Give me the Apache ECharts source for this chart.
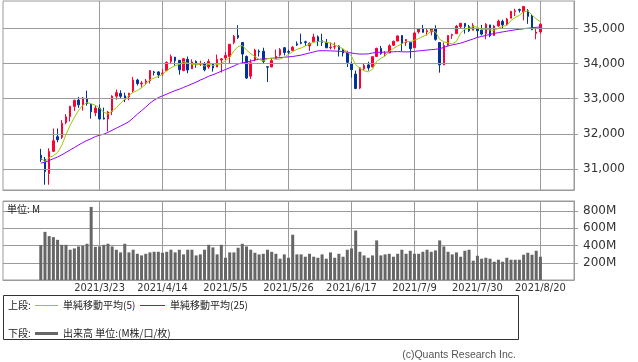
<!DOCTYPE html>
<html><head><meta charset="utf-8">
<script src="https://cdn.jsdelivr.net/npm/echarts@6/dist/echarts.min.js"></script>
<style>html,body{margin:0;padding:0;background:#fff}#c{width:638px;height:362px}</style>
</head><body><div id="c"></div>
<script>
const dates = ['2021/3/3','2021/3/4','2021/3/5','2021/3/8','2021/3/9','2021/3/10','2021/3/11','2021/3/12','2021/3/15','2021/3/16','2021/3/17','2021/3/18','2021/3/19','2021/3/22','2021/3/23','2021/3/24','2021/3/25','2021/3/26','2021/3/29','2021/3/30','2021/3/31',
'2021/4/1','2021/4/5','2021/4/6','2021/4/7','2021/4/8','2021/4/9','2021/4/12','2021/4/13','2021/4/14','2021/4/15','2021/4/16','2021/4/19','2021/4/20','2021/4/21','2021/4/22','2021/4/23','2021/4/26','2021/4/27','2021/4/28','2021/4/29','2021/4/30',
'2021/5/3','2021/5/4','2021/5/5','2021/5/6','2021/5/7','2021/5/10','2021/5/11','2021/5/12','2021/5/13','2021/5/14','2021/5/17','2021/5/18','2021/5/19','2021/5/20','2021/5/21','2021/5/24','2021/5/25','2021/5/26','2021/5/27','2021/5/28',
'2021/6/1','2021/6/2','2021/6/3','2021/6/4','2021/6/7','2021/6/8','2021/6/9','2021/6/10','2021/6/11','2021/6/14','2021/6/15','2021/6/16','2021/6/17','2021/6/18','2021/6/21','2021/6/22','2021/6/23','2021/6/24','2021/6/25','2021/6/28','2021/6/29','2021/6/30',
'2021/7/1','2021/7/2','2021/7/6','2021/7/7','2021/7/8','2021/7/9','2021/7/12','2021/7/13','2021/7/14','2021/7/15','2021/7/16','2021/7/19','2021/7/20','2021/7/21','2021/7/22','2021/7/23','2021/7/26','2021/7/27','2021/7/28','2021/7/29','2021/7/30',
'2021/8/2','2021/8/3','2021/8/4','2021/8/5','2021/8/6','2021/8/9','2021/8/10','2021/8/11','2021/8/12','2021/8/13','2021/8/16','2021/8/17','2021/8/18','2021/8/19','2021/8/20'];

const opens = [31390,31270,30870,31500,31917,31900,32320,32490,32780,32960,32820,33000,32840,32600,32730,32450,32420,32640,33070,33150,33080,
33054,33222,33530,33420,33470,33510,33760,33760,33700,33800,34055,34180,34093,33800,34120,33850,34060,33975,34000,33900,33990,
33900,34100,34160,34200,34600,34800,34600,34200,33640,34100,34350,34350,33910,33900,34150,34240,34450,34340,34370,34560,
34600,34620,34500,34620,34760,34650,34600,34450,34470,34500,34390,34300,34000,33700,33300,33850,33960,33900,34200,34430,34280,34300,
34520,34640,34800,34600,34600,34450,34900,35000,34900,34900,35000,34600,33960,34520,34800,34850,35050,35140,35050,34950,35000,
34950,34850,35100,34800,35070,35200,35100,35290,35480,35540,35470,35500,35350,34860,34900];
const highs = [31571,31340,31590,32150,32150,32390,32560,32800,32970,33050,33047,33227,32870,32805,32837,32747,32650,33098,33259,33240,33172,
33167,33618,33566,33506,33559,33810,33791,33781,33842,34055,34257,34190,34100,34160,34200,34120,34090,34080,34040,34127,34000,
34257,34150,34334,34550,34811,35091,34600,34230,34120,34420,34400,34450,33925,34150,34400,34440,34470,34390,34500,34630,
34850,34650,34600,34850,34800,34850,34700,34600,34600,34520,34420,34360,34050,33800,33900,34000,34050,34200,34450,34500,34350,34550,
34650,34800,34800,34700,34600,34900,35000,35100,35000,35000,35090,34600,34600,34800,34850,35100,35150,35150,35100,35150,35000,
35100,35150,35100,35100,35250,35250,35300,35500,35560,35560,35630,35550,35400,35000,35150];
const lows = [31200,30550,30550,31480,31760,31850,32270,32350,32650,32740,32660,32800,32430,32500,32400,32409,32072,32530,32970,32990,32900,
32954,33171,33375,33318,33400,33430,33660,33590,33650,33780,34010,33927,33684,33780,33725,33850,33880,33930,33780,33850,33770,
33900,33745,34100,34000,34550,34700,34000,33560,33560,34060,34200,34000,33473,33900,34150,34200,34230,34270,34360,34500,
34550,34500,34360,34600,34500,34500,34440,34400,34400,34200,34200,33900,33600,33270,33270,33800,33800,33900,34200,34250,34200,34300,
34500,34640,34350,34500,34150,34450,34850,34880,34800,34800,34650,33740,33960,34500,34700,34850,35000,34850,34900,34950,34750,
34800,34690,34750,34800,35050,35000,35100,35290,35350,35450,35230,35130,34960,34690,34850];
const closes = [31270,30924,31496,31802,31832,32297,32485,32779,32953,32825,33015,32862,32628,32731,32423,32420,32619,33072,33171,33067,32982,
33153,33527,33430,33446,33503,33800,33745,33677,33730,34035,34200,34077,33821,34137,33815,34043,33981,33984,33820,34060,33874,
34113,34133,34230,34548,34778,34742,34269,33587,34021,34382,34327,34060,33896,34084,34208,34394,34312,34323,34465,34529,
34575,34600,34577,34756,34630,34600,34447,34466,34480,34393,34299,34033,33823,33290,33877,33945,33874,34196,34433,34283,34292,34503,
34633,34786,34577,34681,34422,34870,34996,34889,34933,34987,34688,33962,34512,34798,34823,35061,35144,35058,34930,35085,34935,
34838,35116,34793,35064,35208,35102,35265,35485,35500,35515,35625,35343,34961,34894,35120];

const ma5 = [31306,31210,31323,31377,31465,31670,31982,32239,32469,32668,32811,32887,32857,32812,32732,32613,32564,32653,32741,32870,32982,
33089,33180,33232,33308,33412,33541,33585,33634,33691,33797,33877,33944,33973,34054,34010,33979,33959,33992,33929,33978,33944,
33970,34000,34082,34180,34360,34486,34513,34385,34279,34200,34117,34075,34137,34150,34115,34128,34179,34264,34340,34405,
34441,34498,34549,34607,34628,34633,34602,34580,34525,34477,34417,34334,34206,33968,33864,33794,33762,33836,34065,34146,34216,34341,
34429,34499,34558,34636,34620,34667,34709,34772,34822,34935,34899,34692,34616,34589,34557,34631,34868,34977,35003,35056,35030,
34969,34981,34953,34949,35004,35057,35086,35225,35312,35373,35478,35494,35389,35268,35189];
const ma25 = [31165,31190,31240,31290,31340,31400,31470,31540,31610,31680,31750,31810,31860,31920,31960,31990,32040,32100,32160,32220,32280,
32347,32450,32560,32660,32760,32870,32960,33030,33080,33130,33180,33230,33270,33320,33370,33420,33470,33530,33580,33640,33680,
33730,33780,33830,33880,33930,33990,34020,34040,34070,34100,34120,34130,34140,34150,34160,34170,34180,34190,34200,34220,
34240,34270,34300,34330,34360,34365,34365,34360,34355,34350,34340,34320,34300,34280,34270,34270,34275,34300,34320,34320,34325,34330,
34335,34340,34335,34330,34335,34345,34360,34370,34385,34395,34405,34420,34460,34500,34530,34555,34580,34620,34660,34700,34744,
34770,34800,34830,34855,34880,34900,34920,34940,34960,34975,34990,35005,35015,35030,35045];

const volumes = [404,558,509,497,466,408,408,351,366,389,397,420,847,385,389,408,420,389,351,320,420,
320,351,304,285,304,320,327,327,316,327,351,320,351,297,351,351,285,297,351,408,378,
297,408,258,320,320,374,420,389,351,316,297,304,351,327,304,247,297,258,525,297,
297,270,304,270,258,297,247,320,258,304,270,351,366,574,327,285,258,285,459,285,297,304,
270,304,351,304,339,304,304,327,351,327,343,459,389,327,297,320,270,339,351,224,281,
247,258,247,212,235,212,258,235,235,235,293,316,293,339,270];

const priceTicks = [31000,32000,33000,34000,35000];
const xTickLabels = ['2021/3/23','2021/4/14','2021/5/5','2021/5/26','2021/6/17','2021/7/9','2021/7/30','2021/8/20'];

const LEAD = 9, TRAIL = 8;
const cats = [];
for (let i = 0; i < LEAD; i++) cats.push('pad_a' + i);
dates.forEach(d => cats.push(d));
for (let i = 0; i < TRAIL; i++) cats.push('pad_b' + i);
const pad = arr => [...Array(LEAD).fill('-'), ...arr, ...Array(TRAIL).fill('-')];
const candles = [];
for (let i = 0; i < LEAD; i++) candles.push(['-','-','-','-']);
dates.forEach((d, i) => candles.push([opens[i], closes[i], lows[i], highs[i]]));
for (let i = 0; i < TRAIL; i++) candles.push(['-','-','-','-']);

const tickSet = new Set(xTickLabels);
const showTick = (idx, val) => tickSet.has(val);
const GRID = '#9a9a9a';
const NUMFONT = 'DejaVu Sans';
const JPFONT = '"Noto Sans CJK JP"';
const LEGFONT = '10px ' + JPFONT;

const chart = echarts.init(document.getElementById('c'), null, {renderer: 'canvas'});
chart.setOption({
  animation: false,
  backgroundColor: '#fff',
  grid: [
    {left: 3, right: 64, top: 1, height: 189, show: true, borderColor: GRID, borderWidth: 1},
    {left: 3, right: 64, top: 201, height: 79, show: true, borderColor: GRID, borderWidth: 1}
  ],
  xAxis: [
    {type: 'category', gridIndex: 0, data: cats, boundaryGap: false,
     axisLine: {show: true, lineStyle: {color: GRID}}, axisTick: {show: false}, axisLabel: {show: false},
     splitLine: {show: true, interval: showTick, lineStyle: {color: GRID, width: 1}}},
    {type: 'category', gridIndex: 1, data: cats, boundaryGap: false,
     axisLine: {show: true, lineStyle: {color: GRID}}, axisTick: {show: false},
     axisLabel: {show: true, interval: showTick, color: '#333', fontSize: 11, fontFamily: 'DejaVu Sans Condensed', margin: 3},
     splitLine: {show: true, interval: showTick, lineStyle: {color: GRID, width: 1}}}
  ],
  yAxis: [
    {type: 'value', gridIndex: 0, position: 'right', min: 30400, max: 35780, scale: true,
     axisLine: {show: true, lineStyle: {color: GRID}},
     axisTick: {show: true, inside: false, length: 4, customValues: priceTicks, lineStyle: {color: GRID}},
     axisLabel: {show: true, customValues: priceTicks, color: '#333', fontSize: 12, fontFamily: NUMFONT, margin: 9,
       formatter: v => Number(v).toLocaleString('en-US')},
     splitLine: {show: false}},
    {type: 'value', gridIndex: 1, position: 'right', min: 0, max: 916, interval: 200,
     axisLine: {show: true, lineStyle: {color: GRID}},
     axisTick: {show: true, inside: false, length: 4, lineStyle: {color: GRID}},
     axisLabel: {show: true, color: '#333', fontSize: 12, fontFamily: NUMFONT, margin: 9, showMinLabel: false, showMaxLabel: false,
       formatter: v => v + 'M'},
     splitLine: {show: true, lineStyle: {color: GRID, width: 1}}}
  ],
  series: [
    {type: 'line', xAxisIndex: 0, yAxisIndex: 0, data: pad(closes.map(() => '-')), z: 1, silent: true, symbol: 'none',
     markLine: {silent: true, symbol: ['none','none'], label: {show: false},
       lineStyle: {color: GRID, type: 'solid', width: 1},
       data: priceTicks.map(v => ({yAxis: v}))}},
    {type: 'candlestick', xAxisIndex: 0, yAxisIndex: 0, data: candles, z: 3, barWidth: 2,
     itemStyle: {color: '#ff0033', color0: '#003399', borderColor: '#ff0033', borderColor0: '#003399', borderColorDoji: '#ff0033', borderWidth: 1}},
    {type: 'line', xAxisIndex: 0, yAxisIndex: 0, data: pad(ma25), z: 4, symbol: 'none', showSymbol: false,
     lineStyle: {color: '#9900ff', width: 1}},
    {type: 'line', xAxisIndex: 0, yAxisIndex: 0, data: pad(ma5), z: 5, symbol: 'none', showSymbol: false,
     lineStyle: {color: '#99cc00', width: 1}},
    {type: 'bar', xAxisIndex: 1, yAxisIndex: 1, data: pad(volumes), barWidth: 3, itemStyle: {color: '#666666'}, z: 3}
  ],
  graphic: [
    {type: 'text', z: 10, style: {text: '単位: M', x: 7, y: 209, verticalAlign: 'middle', font: LEGFONT, fill: '#222'}},
    {type: 'rect', z: 10, shape: {x: 3.5, y: 295.5, width: 515, height: 44}, style: {fill: '#fff', stroke: '#333', lineWidth: 1}},
    {type: 'text', z: 11, style: {text: '上段:', x: 8, y: 305, verticalAlign: 'middle', font: LEGFONT, fill: '#222'}},
    {type: 'line', z: 11, shape: {x1: 35, y1: 305.5, x2: 58, y2: 305.5}, style: {stroke: '#99cc00', lineWidth: 1}},
    {type: 'text', z: 11, style: {text: '単純移動平均(5)', x: 63, y: 305, verticalAlign: 'middle', font: LEGFONT, fill: '#222'}},
    {type: 'line', z: 11, shape: {x1: 140, y1: 305.5, x2: 165, y2: 305.5}, style: {stroke: '#9900ff', lineWidth: 1}},
    {type: 'text', z: 11, style: {text: '単純移動平均(25)', x: 170, y: 305, verticalAlign: 'middle', font: LEGFONT, fill: '#222'}},
    {type: 'text', z: 11, style: {text: '下段:', x: 8, y: 333, verticalAlign: 'middle', font: LEGFONT, fill: '#222'}},
    {type: 'line', z: 11, shape: {x1: 35, y1: 333.5, x2: 58, y2: 333.5}, style: {stroke: '#666666', lineWidth: 3}},
    {type: 'text', z: 11, style: {text: '出来高 単位:(M株/口/枚)', x: 63, y: 333, verticalAlign: 'middle', font: LEGFONT, fill: '#222'}},
    {type: 'text', z: 11, style: {text: '(c)Quants Research Inc.', x: 516, y: 355, align: 'right', verticalAlign: 'middle', font: '10.5px "Liberation Sans"', fill: '#555'}}
  ]
});
</script>
</body></html>
